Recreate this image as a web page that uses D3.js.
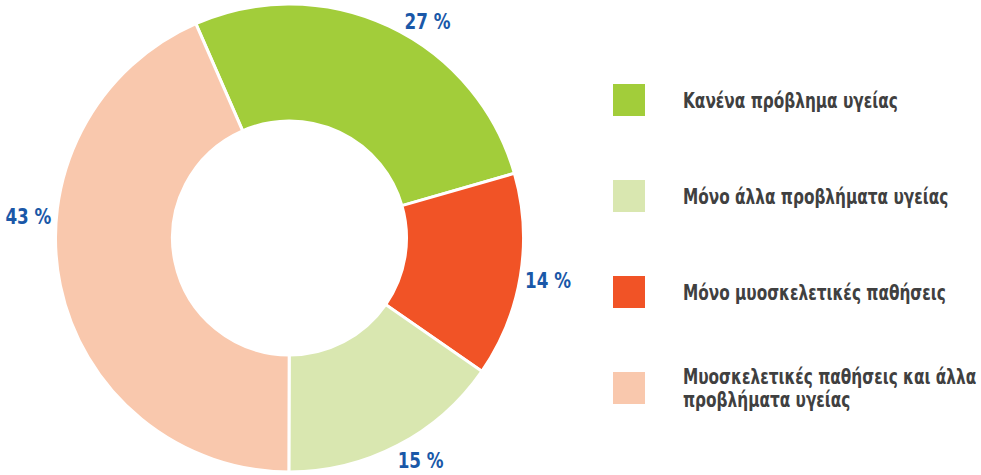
<!DOCTYPE html>
<html>
<head>
<meta charset="utf-8">
<script src="https://cdn.jsdelivr.net/npm/d3@7/dist/d3.min.js"></script>
<style>
  html, body { margin: 0; padding: 0; background: #fff; }
  svg { display: block; }
</style>
</head>
<body>
<svg id="chart" width="981" height="475"></svg>
<script>
// ---- data ----
const categories = [
  "Κανένα πρόβλημα υγείας",
  "Μόνο μυοσκελετικές παθήσεις",
  "Μόνο άλλα προβλήματα υγείας",
  "Μυοσκελετικές παθήσεις και άλλα προβλήματα υγείας"
];
const values = [27.1, 14.1, 15.4, 43.4];
const valueLabels = ["27 %", "14 %", "15 %", "43 %"];
const colors = ["#a2cd3a", "#f15326", "#d9e7b0", "#f9c8ad"];

// legend order (as in the reference)
const legendOrder = [0, 2, 1, 3];
const legendLines = [
  ["Κανένα πρόβλημα υγείας"],
  ["Μόνο άλλα προβλήματα υγείας"],
  ["Μόνο μυοσκελετικές παθήσεις"],
  ["Μυοσκελετικές παθήσεις και άλλα", "προβλήματα υγείας"]
];

// ---- layout ----
const FONT = "'Liberation Sans Narrow', 'DejaVu Sans Condensed', 'DejaVu Sans', sans-serif";
const svg = d3.select("#chart");
const cx = 289.5, cy = 238, R = 234, r = 117;
const startDeg = -23.6;
const toRad = d => d * Math.PI / 180;

const pie = d3.pie().sort(null).value(d => d)
  .startAngle(toRad(startDeg)).endAngle(toRad(startDeg) + 2 * Math.PI);
const arcs = pie(values);
const arc = d3.arc().innerRadius(r).outerRadius(R);

const g = svg.append("g").attr("transform", `translate(${cx},${cy})`);
g.selectAll("path.slice").data(arcs).enter().append("path")
  .attr("class", "slice")
  .attr("d", arc)
  .attr("fill", (d, i) => colors[i])
  .attr("stroke", "#fff")
  .attr("stroke-width", 3)
  .attr("stroke-linejoin", "miter");

// value labels: placed outside the ring, angle shifted from slice centre
const labelShiftDeg = [7.3, 0, -3, 16.4];
const labelRadius = [257, 262, 258, 262];
const valG = g.selectAll("g.val").data(arcs).enter().append("g")
  .attr("class", "val")
  .attr("transform", (d, i) => {
    const a = (d.startAngle + d.endAngle) / 2 + toRad(labelShiftDeg[i]);
    return `translate(${Math.sin(a) * labelRadius[i]},${-Math.cos(a) * labelRadius[i]})`;
  });
const valT = valG.append("text")
  .attr("text-anchor", "middle")
  .attr("dy", "0.36em")
  .attr("font-family", FONT)
  .attr("font-weight", "bold")
  .attr("font-size", 21.5)
  .attr("fill", "#1a58a8")
  .text((d, i) => valueLabels[i]);
// condense horizontally to match the narrow font of the reference
const w0 = valT.nodes()[0].getComputedTextLength();
const sxVal = Math.min(1, 46 / w0);
valT.attr("transform", `scale(${sxVal},1)`);

// legend
const legendY = d3.scalePoint().domain(d3.range(legendOrder.length)).range([100, 388]);
const lg = svg.append("g");
const items = lg.selectAll("g.item").data(legendOrder).enter().append("g")
  .attr("class", "item")
  .attr("transform", (d, k) => `translate(613,${legendY(k)})`);
items.append("rect")
  .attr("x", 0).attr("y", -16).attr("width", 32).attr("height", 32)
  .attr("fill", d => colors[d]);
const texts = [];
items.each(function (d, k) {
  const lines = legendLines[k];
  const lh = 23;
  const t = d3.select(this).append("g").attr("transform", "translate(70,0)")
    .append("text")
    .attr("font-family", FONT)
    .attr("font-weight", "bold")
    .attr("font-size", 22)
    .attr("fill", "#404040");
  lines.forEach((ln, j) => {
    t.append("tspan")
      .attr("x", 0)
      .attr("y", (j - (lines.length - 1) / 2) * lh)
      .attr("dy", "0.36em")
      .text(ln);
  });
  texts.push(t);
});
const lw0 = texts[0].node().getComputedTextLength();
const sxLeg = Math.min(1, 215 / lw0);
texts.forEach(t => t.attr("transform", `scale(${sxLeg},1)`));
</script>
</body>
</html>
